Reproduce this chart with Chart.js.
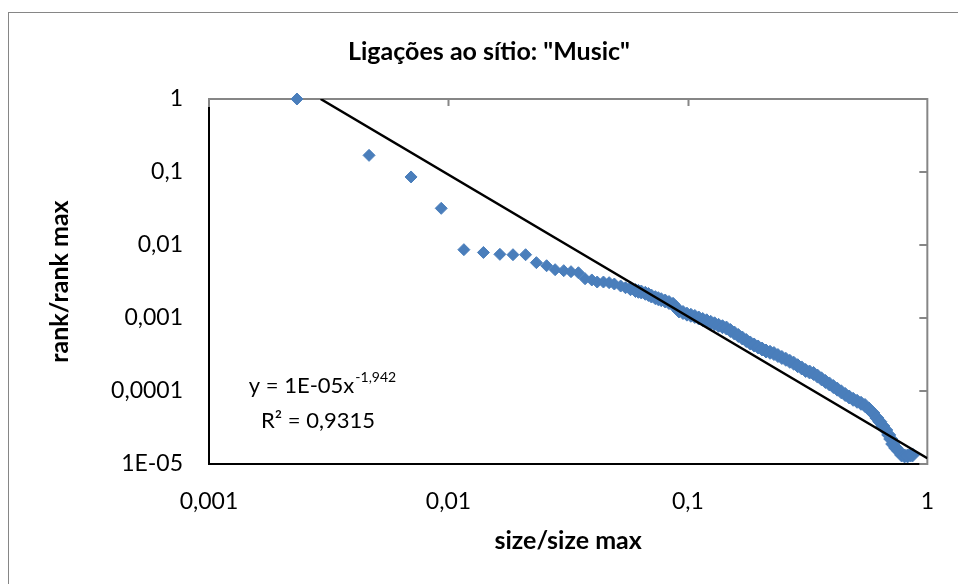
<!DOCTYPE html>
<html>
<head>
<meta charset="utf-8">
<script src="https://cdn.jsdelivr.net/npm/chart.js@4/dist/chart.umd.min.js"></script>
<style>
  body { margin: 0; background: #fff; }
  canvas { display: block; }
</style>
</head>
<body>
<canvas id="rankChart" width="958" height="584"></canvas>
<script>
// size/size max and rank/rank max
const sizeValues = [
  0.00233, 0.00466, 0.00698, 0.00933, 0.0116, 0.0140, 0.0164, 0.0186, 0.0210, 0.0233,
  0.0257, 0.0279, 0.0303, 0.0325, 0.0349, 0.0372, 0.0397, 0.0418, 0.0444, 0.0469,
  0.0493, 0.0524, 0.0549, 0.0576, 0.0604, 0.0621, 0.0639, 0.0664, 0.0684, 0.0704,
  0.0731, 0.0752, 0.0774, 0.0804, 0.0834, 0.0867, 0.0892, 0.0918, 0.0954, 0.0991,
  0.1029, 0.1069, 0.1110, 0.1153, 0.1198, 0.1245, 0.1293, 0.1343, 0.1395, 0.1449,
  0.1505, 0.1564, 0.1624, 0.1688, 0.1753, 0.1821, 0.1891, 0.1965, 0.2041, 0.2120,
  0.2203, 0.2288, 0.2377, 0.2469, 0.2565, 0.2665, 0.2768, 0.2875, 0.2987, 0.3103,
  0.3223, 0.3348, 0.3478, 0.3613, 0.3753, 0.3899, 0.4050, 0.4207, 0.4370, 0.4540,
  0.4716, 0.4898, 0.5089, 0.5286, 0.5491, 0.5704, 0.5925, 0.6155, 0.6333, 0.6517,
  0.6705, 0.6899, 0.7033, 0.7168, 0.7376, 0.7589, 0.7809, 0.8035, 0.8268, 0.8507,
  0.8670
];
const rankValues = [
  1, 0.169, 0.0855, 0.0318, 0.00863, 0.0079, 0.00745, 0.00736, 0.00736, 0.00573,
  0.0052, 0.00459, 0.00445, 0.00431, 0.00417, 0.00345, 0.00332, 0.00311, 0.00311, 0.00305,
  0.00292, 0.00274, 0.0026, 0.00252, 0.00238, 0.00232, 0.00227, 0.00218, 0.0021, 0.0020,
  0.0019, 0.00184, 0.00178, 0.00171, 0.00163, 0.00154, 0.00139, 0.00125, 0.00119, 0.00113,
  0.00109, 0.00105, 0.00100, 0.000954, 0.000916, 0.000873, 0.000833, 0.000794, 0.00076, 0.000729,
  0.000674, 0.000623, 0.000576, 0.000532, 0.000492, 0.000455, 0.000427, 0.000401, 0.000376, 0.000353,
  0.000339, 0.000326, 0.000306, 0.000288, 0.000272, 0.000255, 0.00024, 0.000222, 0.000207, 0.000191,
  0.000182, 0.000174, 0.00016, 0.000147, 0.000135, 0.000125, 0.000115, 0.000106, 0.0000975, 0.0000896,
  0.0000828, 0.000077, 0.0000723, 0.0000679, 0.0000633, 0.0000567, 0.00005, 0.0000427, 0.000038, 0.0000332,
  0.0000292, 0.000025, 0.000022, 0.0000188, 0.0000166, 0.0000151, 0.0000133, 0.0000129, 0.0000129, 0.0000133,
  0.0000133
];

// power trend line y = a * x^b (a as it sits in the picture)
const trendA = 1.2e-5;
const trendB = -1.942;
const trendText = 'y = 1E-05x';
const trendExp = '-1,942';
const r2Text = 'R² = 0,9315';
const chartTitle = 'Ligações ao sítio: "Music"';

const xTickValues = [0.001, 0.01, 0.1, 1];
const xTickLabels = ['0,001', '0,01', '0,1', '1'];
const yTickValues = [0.00001, 0.0001, 0.001, 0.01, 0.1, 1];
const yTickLabels = ['1E-05', '0,0001', '0,001', '0,01', '0,1', '1'];

const FONT = 'Lato, "Open Sans", sans-serif';

const points = sizeValues.map((x, i) => ({ x: x, y: rankValues[i] }));
const trendStart = Math.pow(1 / trendA, 1 / trendB);
const trendPoints = [trendStart, 1].map(x => ({ x: x, y: trendA * Math.pow(x, trendB) }));

const framePlugin = {
  id: 'frame',
  beforeDraw(chart) {
    const c = chart.ctx;
    c.save();
    c.strokeStyle = '#868686';
    c.lineWidth = 1;
    c.strokeRect(8.5, 12.5, 1000, 700);
    // title, placed like the original
    c.fillStyle = '#000';
    c.font = 'bold 25px ' + FONT;
    c.textAlign = 'center';
    c.textBaseline = 'middle';
    c.fillText(chartTitle, 489, 52);
    c.restore();
  },
  beforeDatasetsDraw(chart) {
    const c = chart.ctx;
    const a = chart.chartArea;
    const xs = chart.scales.x, ys = chart.scales.y;
    c.save();
    c.strokeStyle = '#868686';
    c.lineWidth = 2;
    c.strokeRect(a.left, a.top, a.right - a.left, a.bottom - a.top);
    // inward tick marks on top and right
    c.beginPath();
    xTickValues.slice(1, -1).forEach(v => {
      const px = Math.round(xs.getPixelForValue(v)) + 0.5;
      c.moveTo(px, a.top);
      c.lineTo(px, a.top + 7);
    });
    yTickValues.slice(1, -1).forEach(v => {
      const py = Math.round(ys.getPixelForValue(v));
      c.moveTo(a.right, py);
      c.lineTo(a.right - 8, py);
    });
    c.stroke();
    // black left and bottom axes
    c.strokeStyle = '#000';
    c.beginPath();
    c.moveTo(a.left, a.top + 8);
    c.lineTo(a.left, a.bottom);
    c.lineTo(a.right - 8, a.bottom);
    c.stroke();
    c.restore();
  },
  afterDraw(chart) {
    const c = chart.ctx;
    c.save();
    c.fillStyle = '#000';
    c.textBaseline = 'alphabetic';
    c.font = '22px ' + FONT;
    const w1 = c.measureText(trendText).width;
    c.font = '14px ' + FONT;
    const w2 = c.measureText(trendExp).width;
    const cx = 322;
    const x0 = cx - (w1 + w2) / 2;
    c.font = '22px ' + FONT;
    c.fillText(trendText, x0, 393);
    c.font = '14px ' + FONT;
    c.fillText(trendExp, x0 + w1 + 1, 382);
    c.font = '22px ' + FONT;
    c.textAlign = 'center';
    c.fillText(r2Text, 318, 428);
    c.restore();
  }
};

const ctx = document.getElementById('rankChart').getContext('2d');
const rankChart = new Chart(ctx, {
  type: 'scatter',
  data: {
    datasets: [{
      type: 'line',
      data: trendPoints,
      borderColor: '#000',
      borderWidth: 2.5,
      pointRadius: 0,
      fill: false,
      order: 0
    }, {
      data: points,
      pointStyle: 'rectRot',
      // the dense tail reads as a thicker band in the original
      pointRadius: c => (c.raw && c.raw.x > 0.055 ? 7 : 6),
      pointBackgroundColor: '#4A7EBB',
      pointBorderColor: '#4A7EBB',
      pointBorderWidth: 1,
      clip: false,
      order: 1
    }]
  },
  options: {
    responsive: false,
    animation: false,
    events: [],
    layout: { padding: { top: 99, left: 0, right: 23, bottom: 0 } },
    plugins: {
      legend: { display: false },
      tooltip: { enabled: false },
      title: { display: false }
    },
    scales: {
      x: {
        type: 'logarithmic',
        min: 0.001,
        max: 1,
        grid: { display: false, drawTicks: false },
        border: { display: false },
        afterBuildTicks: scale => { scale.ticks = xTickValues.map(v => ({ value: v })); },
        afterFit: scale => { scale.height = 120; },
        ticks: {
          padding: 24,
          color: '#000',
          font: { family: FONT, size: 23 },
          maxRotation: 0,
          callback: v => xTickLabels[xTickValues.indexOf(v)]
        },
        title: {
          display: true,
          text: 'size/size max',
          color: '#000',
          font: { family: FONT, size: 25, weight: 'bold', lineHeight: 1.2 },
          padding: { top: 0, bottom: 28 }
        }
      },
      y: {
        type: 'logarithmic',
        min: 0.00001,
        max: 1,
        grid: { display: false, drawTicks: false },
        border: { display: false },
        afterBuildTicks: scale => { scale.ticks = yTickValues.map(v => ({ value: v })); },
        afterFit: scale => { scale.width = 209; },
        ticks: {
          padding: 26,
          color: '#000',
          font: { family: FONT, size: 23 },
          callback: v => yTickLabels[yTickValues.indexOf(v)]
        },
        title: {
          display: true,
          text: 'rank/rank max',
          color: '#000',
          font: { family: FONT, size: 25, weight: 'bold', lineHeight: 1.2 },
          padding: { top: 45, bottom: 0 }
        }
      }
    }
  },
  plugins: [framePlugin]
});
</script>
</body>
</html>
